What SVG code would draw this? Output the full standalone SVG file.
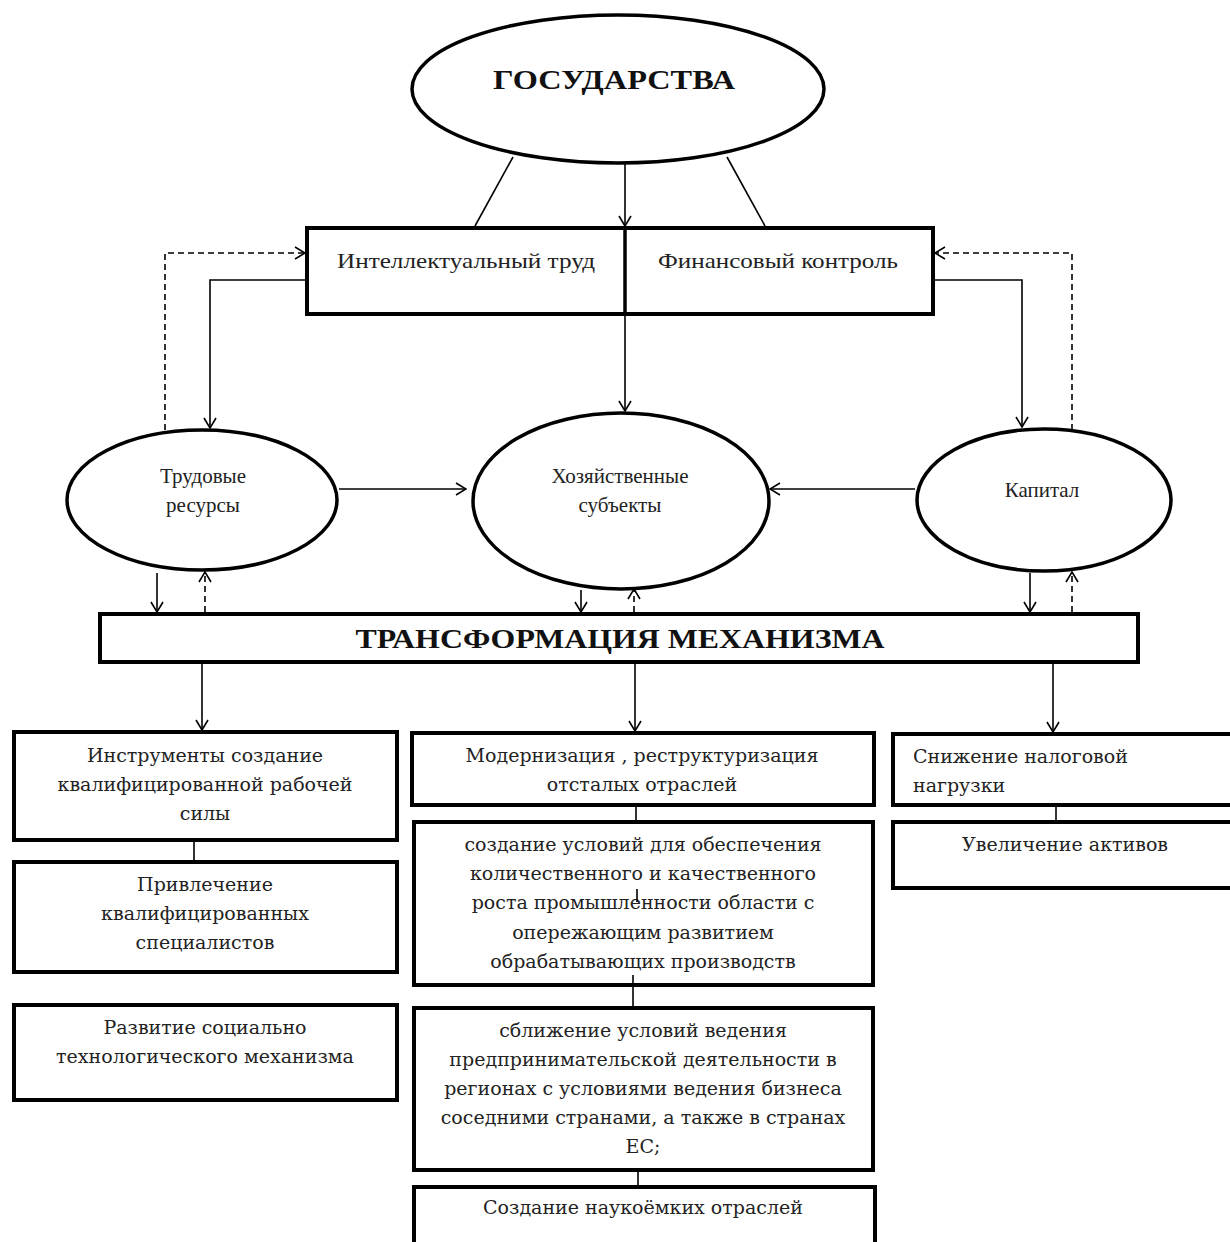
<svg xmlns="http://www.w3.org/2000/svg" width="1230" height="1242" viewBox="0 0 1230 1242">
<style>
.bg{fill:#fff}
.ell{fill:#fff;stroke:#000;stroke-width:3.5}
.box{fill:#fff;stroke:#000;stroke-width:4}
.thin{fill:none;stroke:#000;stroke-width:1.6}
.arr{fill:none;stroke:#000;stroke-width:1.6;marker-end:url(#ah)}
.dash{fill:none;stroke:#000;stroke-width:1.6;stroke-dasharray:6,4}
.darr{fill:none;stroke:#000;stroke-width:1.6;stroke-dasharray:6,4;marker-end:url(#ah)}
.t{font-family:"Liberation Serif","Times New Roman",serif;font-size:21px;fill:#222;text-anchor:middle}
.b{font-family:"DejaVu Serif","Liberation Serif",serif;font-size:19px;fill:#222;text-anchor:middle}
.h{font-family:"Liberation Serif","Times New Roman",serif;font-weight:bold;fill:#111;text-anchor:middle}
</style>
<defs>
<marker id="ah" viewBox="0 0 12 14" refX="11" refY="7" markerWidth="12" markerHeight="14" markerUnits="userSpaceOnUse" orient="auto">
<path d="M1,1 L11,7 L1,13" fill="none" stroke="#000" stroke-width="1.6"/>
</marker>
</defs>
<rect class="bg" x="0" y="0" width="1230" height="1242"/>

<g id="n-gosudarstva">
<ellipse class="ell" cx="618" cy="89" rx="206" ry="74"/>
<text class="h" x="614" y="89" font-size="27" textLength="242" lengthAdjust="spacingAndGlyphs">ГОСУДАРСТВА</text>
</g>

<g id="n-top-box">
<rect class="box" x="307" y="228" width="626" height="86"/>
<line x1="625" y1="228" x2="625" y2="314" stroke="#000" stroke-width="3.5"/>
<text class="t" x="466" y="268" textLength="258" lengthAdjust="spacingAndGlyphs">Интеллектуальный труд</text>
<text class="t" x="778" y="268" textLength="240" lengthAdjust="spacingAndGlyphs">Финансовый контроль</text>
</g>

<g id="n-trud">
<ellipse class="ell" cx="202" cy="500" rx="135" ry="70"/>
<text class="t" x="203" y="483">Трудовые</text>
<text class="t" x="203" y="512">ресурсы</text>
</g>

<g id="n-hoz">
<ellipse class="ell" cx="621" cy="501" rx="148" ry="88"/>
<text class="t" x="620" y="483">Хозяйственные</text>
<text class="t" x="620" y="512">субъекты</text>
</g>

<g id="n-kapital">
<ellipse class="ell" cx="1044" cy="500" rx="127" ry="71"/>
<text class="t" x="1042" y="497">Капитал</text>
</g>

<g id="n-transform">
<rect class="box" x="100" y="614" width="1038" height="48"/>
<text class="h" x="620" y="648" font-size="27" textLength="529" lengthAdjust="spacingAndGlyphs">ТРАНСФОРМАЦИЯ МЕХАНИЗМА</text>
</g>

<g id="n-l1">
<rect class="box" x="14" y="732" width="383" height="108"/>
<text class="b" x="205" y="762">Инструменты создание</text>
<text class="b" x="205" y="791">квалифицированной рабочей</text>
<text class="b" x="205" y="820">силы</text>
</g>
<g id="n-l2">
<rect class="box" x="14" y="862" width="383" height="110"/>
<text class="b" x="205" y="891">Привлечение</text>
<text class="b" x="205" y="920">квалифицированных</text>
<text class="b" x="205" y="949">специалистов</text>
</g>
<g id="n-l3">
<rect class="box" x="14" y="1005" width="383" height="95"/>
<text class="b" x="205" y="1034">Развитие социально</text>
<text class="b" x="205" y="1063">технологического механизма</text>
</g>

<g id="n-m1">
<rect class="box" x="412" y="733" width="462" height="72"/>
<text class="b" x="642" y="762">Модернизация , реструктуризация</text>
<text class="b" x="642" y="791">отсталых отраслей</text>
</g>
<g id="n-m2">
<rect class="box" x="414" y="822" width="459" height="163" stroke-width="5"/>
<text class="b" x="643" y="851">создание условий для обеспечения</text>
<text class="b" x="643" y="880">количественного и качественного</text>
<text class="b" x="643" y="909">роста промышленности области с</text>
<text class="b" x="643" y="939">опережающим развитием</text>
<text class="b" x="643" y="968">обрабатывающих производств</text>
</g>
<g id="n-m3">
<rect class="box" x="414" y="1008" width="459" height="162" stroke-width="5"/>
<text class="b" x="643" y="1037">сближение условий ведения</text>
<text class="b" x="643" y="1066">предпринимательской деятельности в</text>
<text class="b" x="643" y="1095">регионах с условиями ведения бизнеса</text>
<text class="b" x="643" y="1124">соседними странами, а также в странах</text>
<text class="b" x="643" y="1153">ЕС;</text>
</g>
<g id="n-m4">
<rect class="box" x="414" y="1187" width="461" height="70" stroke-width="6"/>
<text class="b" x="643" y="1214">Создание наукоёмких отраслей</text>
</g>

<g id="n-r1">
<rect class="box" x="893" y="734" width="345" height="71"/>
<text class="b" x="913" y="763" style="text-anchor:start">Снижение налоговой</text>
<text class="b" x="913" y="792" style="text-anchor:start">нагрузки</text>
</g>
<g id="n-r2">
<rect class="box" x="893" y="822" width="345" height="66"/>
<text class="b" x="1065" y="851">Увеличение активов</text>
</g>

<g id="connectors">
<line class="thin" x1="513" y1="157" x2="475" y2="226"/>
<line class="thin" x1="727" y1="157" x2="765" y2="226"/>
<line class="arr" x1="625" y1="163" x2="625" y2="226"/>
<polyline class="darr" points="165,430 165,253 305,253"/>
<polyline class="darr" points="1072,430 1072,253 935,253"/>
<polyline class="arr" points="305,280 210,280 210,428"/>
<polyline class="arr" points="935,280 1022,280 1022,427"/>
<line class="arr" x1="625" y1="316" x2="625" y2="411"/>
<line class="arr" x1="339" y1="489" x2="466" y2="489"/>
<line class="arr" x1="915" y1="489" x2="770" y2="489"/>
<line class="arr" x1="157" y1="573" x2="157" y2="612"/>
<line class="darr" x1="205" y1="612" x2="205" y2="572"/>
<line class="arr" x1="581" y1="590" x2="581" y2="612"/>
<line class="darr" x1="634" y1="612" x2="634" y2="589"/>
<line class="arr" x1="1030" y1="573" x2="1030" y2="612"/>
<line class="darr" x1="1072" y1="612" x2="1072" y2="572"/>
<line class="arr" x1="202" y1="664" x2="202" y2="730"/>
<line class="arr" x1="635" y1="664" x2="635" y2="731"/>
<line class="arr" x1="1053" y1="664" x2="1053" y2="732"/>
<line class="thin" x1="194" y1="842" x2="194" y2="860"/>
<line class="thin" x1="636" y1="807" x2="636" y2="820"/>
<line class="thin" x1="637" y1="889" x2="637" y2="902"/>
<line class="thin" x1="633" y1="975" x2="633" y2="1006"/>
<line class="thin" x1="638" y1="1172" x2="638" y2="1185"/>
<line class="thin" x1="1056" y1="807" x2="1056" y2="820"/>
</g>
</svg>
